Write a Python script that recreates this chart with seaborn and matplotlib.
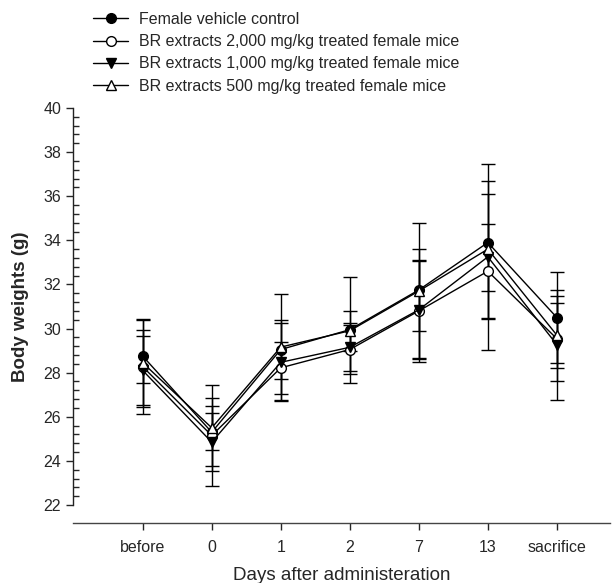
import numpy as np
import pandas as pd
import seaborn as sns
import matplotlib.pyplot as plt

# Time points (x categories)
days = ["before", "0", "1", "2", "7", "13", "sacrifice"]

# Means and SD (g)
control_mean = [28.75, 25.3, 29.05, 29.95, 31.75, 33.9, 30.5]
control_sd = [1.2, 1.55, 1.34, 2.4, 1.85, 2.2, 2.08]

high_mean = [28.27, 25.15, 28.22, 29.05, 30.8, 32.6, 29.54]
high_sd = [2.13, 2.3, 1.18, 1.1, 2.3, 2.15, 1.94]

mid_mean = [28.1, 24.85, 28.47, 29.15, 30.85, 33.25, 29.27]
mid_sd = [1.55, 1.3, 1.77, 1.08, 2.2, 4.2, 2.5]

low_mean = [28.45, 25.5, 29.16, 29.9, 31.7, 33.6, 29.7]
low_sd = [2.0, 1.0, 2.4, 0.9, 3.1, 3.1, 1.47]

labels = ["Female vehicle control",
          "BR extracts 2,000 mg/kg treated female mice",
          "BR extracts 1,000 mg/kg treated female mice",
          "BR extracts 500 mg/kg treated female mice"]
markers = ["o", "o", "v", "^"]
face_colors = ["black", "white", "black", "white"]

means = [control_mean, high_mean, mid_mean, low_mean]
sds = [control_sd, high_sd, mid_sd, low_sd]

sns.set_style("ticks")
plt.rcParams['font.family'] = ['Liberation Sans', 'DejaVu Sans']

fig = plt.figure(figsize=(6.13, 5.83), dpi=100)
ax = fig.add_axes([73 / 613, 1 - 505 / 583, 537 / 613, 397 / 583])

x = np.arange(len(days))
handles = []
for m, s, mk, fc, lab in zip(means, sds, markers, face_colors, labels):
    df = pd.DataFrame({"day": x, "weight": m})
    ax.errorbar(x, m, yerr=s, fmt="none", ecolor="black", elinewidth=1,
                capsize=5, capthick=1, zorder=1)
    sns.lineplot(data=df, x="day", y="weight", ax=ax, color="black",
                 linewidth=1, marker=mk, markersize=7, markerfacecolor=fc,
                 markeredgecolor="black", markeredgewidth=1, zorder=3)
    handles.append(ax.lines[-1])

ax.set_xlim(-1.01, 6.77)
ax.set_ylim(22, 40)
ax.set_xticks(x)
ax.set_xticklabels(days)
ax.set_yticks(np.arange(22, 41, 2))
ax.set_yticks(np.arange(22, 40.01, 0.4), minor=True)
ax.tick_params(axis="y", which="major", direction="out", length=5, width=1, labelsize=11.5)
ax.tick_params(axis="y", which="minor", direction="in", length=4, width=1)
ax.tick_params(axis="x", which="major", direction="out", length=5, width=1,
               labelsize=11.5, pad=7)
ax.tick_params(axis="x", which="minor", bottom=False)

sns.despine(ax=ax)
ax.spines["bottom"].set_position(("outward", 13))
ax.spines["left"].set_linewidth(1)
ax.spines["bottom"].set_linewidth(1)
ax.spines["left"].set_color("#222222")
ax.spines["bottom"].set_color("#444444")

ax.set_xlabel("Days after administeration", fontsize=13.5, labelpad=9)
ax.set_ylabel("Body weights (g)", fontsize=13.5, fontweight="bold", labelpad=10)

fig.legend(handles, labels, loc="upper left", bbox_to_anchor=(93 / 613, 1 - 12 / 583),
           frameon=False, fontsize=11.5, handlelength=2.2, handletextpad=0.7,
           labelspacing=0.45, borderpad=0, borderaxespad=0)

fig.savefig("out.png", dpi=100)
